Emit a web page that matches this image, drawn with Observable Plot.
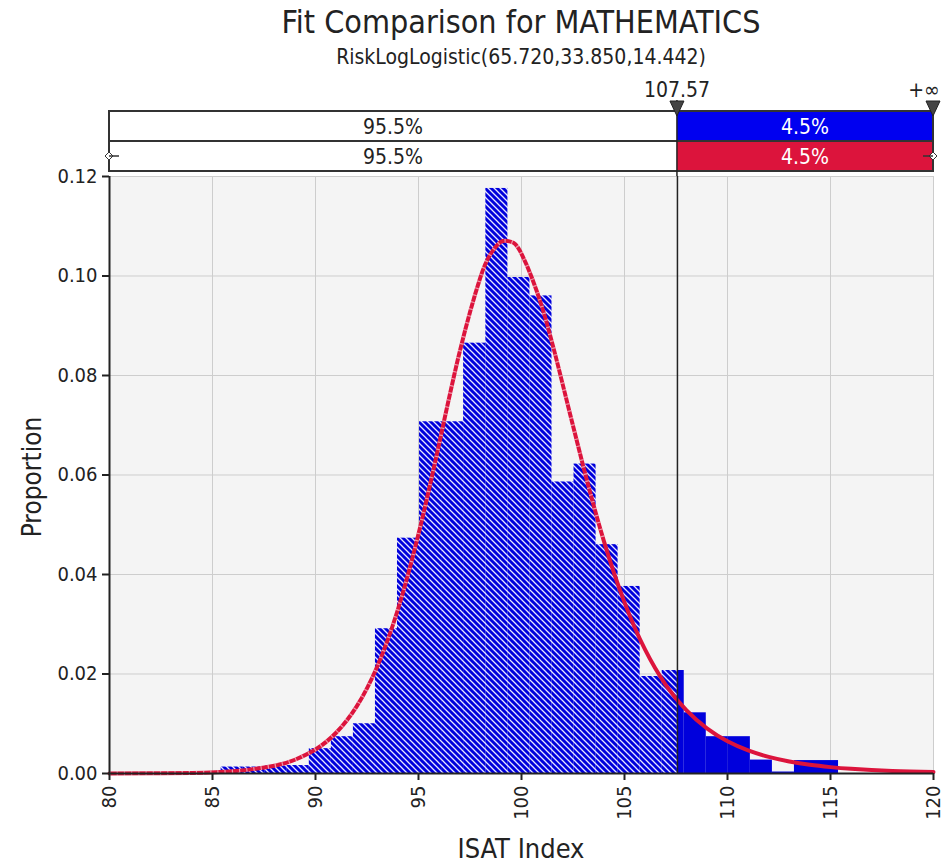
<!DOCTYPE html>
<html><head><meta charset="utf-8">
<script src="https://cdn.jsdelivr.net/npm/d3@7"></script>
<script src="https://cdn.jsdelivr.net/npm/@observablehq/plot@0.6"></script>
<style>
body{margin:0;background:#fff;}
#chart svg{display:block;}
</style>
</head><body><div id="chart"></div>
<script>
// ---- text ----
const title = "Fit Comparison for MATHEMATICS";
const subtitle = "RiskLogLogistic(65.720,33.850,14.442)";
const xLabel = "ISAT Index";
const yLabel = "Proportion";

// ---- ticks ----
const xTicks = [80, 85, 90, 95, 100, 105, 110, 115, 120];
const yTicks = [0, 0.02, 0.04, 0.06, 0.08, 0.10, 0.12];

// ---- histogram (input data) ----
const binStart = [85.42, 86.49, 87.56, 88.63, 89.70, 90.77, 91.84, 92.91, 93.98, 95.05, 96.12, 97.19, 98.27, 99.34, 100.41, 101.48, 102.55, 103.62, 104.69, 105.76, 106.83, 107.90, 108.97, 110.04, 111.11, 112.18, 113.25, 114.32];
const binEnd   = [86.49, 87.56, 88.63, 89.70, 90.77, 91.84, 92.91, 93.98, 95.05, 96.12, 97.19, 98.27, 99.34, 100.41, 101.48, 102.55, 103.62, 104.69, 105.76, 106.83, 107.90, 108.97, 110.04, 111.11, 112.18, 113.25, 114.32, 115.39];
const binProportion = [0.0013, 0.0013, 0.0015, 0.0016, 0.0050, 0.0074, 0.0100, 0.0291, 0.0473, 0.0707, 0.0707, 0.0865, 0.1176, 0.0997, 0.0960, 0.0586, 0.0622, 0.0460, 0.0376, 0.0195, 0.0207, 0.0122, 0.0074, 0.0074, 0.0027, 0.0003, 0.0026, 0.0026];

// ---- fitted LogLogistic curve ----
const fitX = [80, 82, 84, 86, 88, 89, 90, 91, 92, 93, 94, 95, 96, 97, 98, 98.5, 99, 99.5, 100, 101, 102, 103, 104, 105, 106, 107, 108, 109, 110, 111, 112, 113, 114, 115, 116, 118, 120];
const fitDensity = [0.0000, 0.00003, 0.00011, 0.00044, 0.00154, 0.00276, 0.00482, 0.00819, 0.01350, 0.02151, 0.03296, 0.04813, 0.06623, 0.08476, 0.09966, 0.10442, 0.10687, 0.10686, 0.10446, 0.09372, 0.07822, 0.06170, 0.04671, 0.03439, 0.02488, 0.01783, 0.01272, 0.00907, 0.00647, 0.00464, 0.00334, 0.00241, 0.00175, 0.00128, 0.00094, 0.00052, 0.00029];

// ---- delimiters ----
const cutValue = 107.57;
const cutLabel = "107.57";
const rightLabel = "+\u221e";
const leftPct = "95.5%";
const rightPct = "4.5%";

// colours
const barBlue = "#0000dc";
const fitRed = "#dc143c";
const font = "'DejaVu Sans Condensed', 'DejaVu Sans', sans-serif";

// split bins at the delimiter: hatched on the left, solid on the right
const barsL = [], barsR = [];
binStart.forEach((s, i) => {
  const e = binEnd[i], v = binProportion[i];
  if (e <= cutValue) barsL.push({x1: s, x2: e, y: v});
  else if (s >= cutValue) barsR.push({x1: s, x2: e, y: v});
  else { barsL.push({x1: s, x2: cutValue, y: v}); barsR.push({x1: cutValue, x2: e, y: v}); }
});
const fit = fitX.map((x, i) => ({x, y: fitDensity[i]}));
const fitLeft = fit.filter(d => d.x <= 104);

const W = 946, H = 866;
const plot = Plot.plot({
  width: W, height: H,
  marginLeft: 109, marginRight: 13, marginTop: 176, marginBottom: 93,
  style: {fontFamily: font, fontSize: "20px", color: "#222", background: "white", overflow: "visible"},
  x: {domain: [80, 120]},
  y: {domain: [0, 0.12]},
  marks: [
    Plot.frame({fill: "#f4f4f4", stroke: null}),
    Plot.gridX(xTicks, {stroke: "#cdcdcd", strokeOpacity: 1, strokeWidth: 1}),
    Plot.gridY(yTicks, {stroke: "#cdcdcd", strokeOpacity: 1, strokeWidth: 1}),
    Plot.rectY(barsL, {x1: "x1", x2: "x2", y: "y", fill: "#0000db", inset: 0}),
    Plot.rectY(barsR, {x1: "x1", x2: "x2", y: "y", fill: barBlue, inset: 0}),
    Plot.line(fit, {x: "x", y: "y", stroke: fitRed, strokeWidth: 4, curve: "natural"}),
    Plot.line(fitLeft, {x: "x", y: "y", stroke: "white", strokeOpacity: 0.55, strokeWidth: 4, strokeDasharray: "1.2,6", strokeLinecap: "butt", curve: "natural"}),
    Plot.ruleX([cutValue], {stroke: "#222", strokeWidth: 1.5}),
    Plot.ruleX([80], {stroke: "#222", strokeWidth: 2}),
    Plot.ruleY([0], {stroke: "#222", strokeWidth: 2}),
    Plot.axisX({ticks: xTicks, tickRotate: -90, tickSize: 7, tickPadding: 5, tickFormat: d => String(d), label: null, stroke: "#222", strokeWidth: 2}),
    Plot.axisY({ticks: yTicks, tickSize: 7, tickPadding: 5, tickFormat: d3.format(".2f"), label: null, stroke: "#222", strokeWidth: 2})
  ]
});
document.getElementById("chart").appendChild(plot);

const svg = d3.select(plot);
const xs = plot.scale("x");
const X = v => xs.apply(v);

// hatch pattern for the left part
const defs = svg.insert("defs", ":first-child");
const pat = defs.append("pattern").attr("id", "hatch").attr("patternUnits", "userSpaceOnUse")
  .attr("width", 6).attr("height", 6);
pat.append("rect").attr("width", 6).attr("height", 6).attr("fill", barBlue);
pat.append("path").attr("d", "M-1,-1L7,7M-1,5L1,7M5,-1L7,1")
  .attr("stroke", "#e6e6ff").attr("stroke-width", 1.3).attr("fill", "none");
svg.selectAll("g[fill='#0000db']").attr("fill", "url(#hatch)");

// titles
const ann = svg.append("g").attr("font-family", font).attr("fill", "#222");
const cx = (X(80) + X(120)) / 2;
ann.append("text").attr("x", cx).attr("y", 33).attr("text-anchor", "middle")
  .attr("font-size", 32).text(title);
ann.append("text").attr("x", cx).attr("y", 64).attr("text-anchor", "middle")
  .attr("font-size", 21).text(subtitle);
ann.append("text").attr("x", cx).attr("y", 858).attr("text-anchor", "middle")
  .attr("font-size", 27).text(xLabel);
ann.append("text").attr("transform", `translate(41,477) rotate(-90)`).attr("text-anchor", "middle")
  .attr("font-size", 26).text(yLabel);

// delimiter strip
const x0 = X(80), x1 = X(120), xc = X(cutValue);
const r1 = 111, r2 = 141, r3 = 171;
const strip = svg.append("g");
strip.append("rect").attr("x", x0).attr("y", r1).attr("width", xc - x0).attr("height", r3 - r1).attr("fill", "white");
strip.append("rect").attr("x", xc).attr("y", r1).attr("width", x1 - xc).attr("height", r2 - r1).attr("fill", "#0000f0");
strip.append("rect").attr("x", xc).attr("y", r2).attr("width", x1 - xc).attr("height", r3 - r2).attr("fill", fitRed);
strip.append("path").attr("d", `M${x0},${r1}H${x1}V${r3}H${x0}Z M${x0},${r2}H${x1}`)
  .attr("fill", "none").attr("stroke", "#333").attr("stroke-width", 2);
strip.append("line").attr("x1", xc).attr("x2", xc).attr("y1", 100).attr("y2", 176)
  .attr("stroke", "#222").attr("stroke-width", 1.5);
const st = strip.append("g").attr("font-family", font).attr("font-size", 21).attr("text-anchor", "middle");
st.append("text").attr("x", (x0 + xc) / 2).attr("y", 134).attr("fill", "#222").text(leftPct);
st.append("text").attr("x", (x0 + xc) / 2).attr("y", 164).attr("fill", "#222").text(leftPct);
st.append("text").attr("x", (xc + x1) / 2).attr("y", 134).attr("fill", "white").text(rightPct);
st.append("text").attr("x", (xc + x1) / 2).attr("y", 164).attr("fill", "white").text(rightPct);
// markers
[xc, x1].forEach(px => {
  strip.append("path").attr("d", `M${px - 7},${101}L${px + 7},${101}L${px},${116}Z`)
    .attr("fill", "#444").attr("stroke", "#222").attr("stroke-width", 1);
});
st.append("text").attr("x", xc).attr("y", 97).attr("fill", "#222").text(cutLabel);
st.append("text").attr("x", x1 - 9).attr("y", 97).attr("fill", "#222").text(rightLabel);
// small end arrows on second row
[[x0, -1], [x1, 1]].forEach(([px, dir]) => {
  strip.append("path").attr("d", `M${px + dir * 4},156L${px},152L${px - dir * 4},156L${px},160Z`)
    .attr("fill", "white").attr("stroke", "#333").attr("stroke-width", 1);
  strip.append("line").attr("x1", px).attr("x2", px - dir * 10).attr("y1", 156).attr("y2", 156)
    .attr("stroke", "#333").attr("stroke-width", 1.5);
});
</script>
</body></html>
